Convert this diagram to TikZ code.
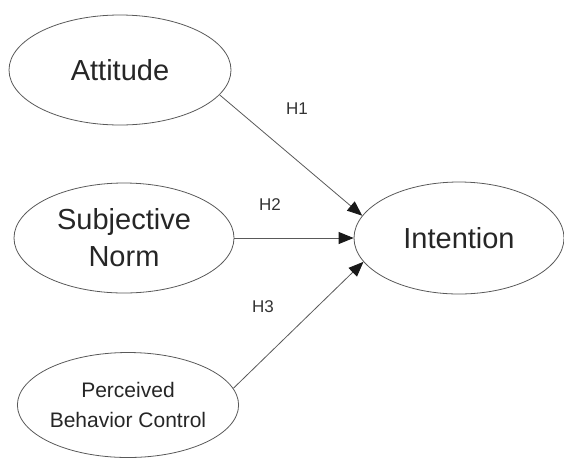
\documentclass[tikz,border=0pt]{standalone}
\usepackage{fontspec}
\setmainfont{Liberation Sans}
\usepackage{xcolor}
\usetikzlibrary{positioning, arrows.meta, shapes}

\begin{document}
\begin{tikzpicture}[x=1pt, y=-1pt,
    construct/.style={ellipse, draw=black!65, line width=0.8pt, inner sep=0pt, text=black!85, align=center, font=\fontsize{29}{37}\selectfont},
    hyp/.style={draw=black!65, line width=0.8pt, -{Triangle[length=15pt, width=12pt, fill=black!90, color=black!90]}},
    hlabel/.style={text=black!80, font=\fontsize{17}{20}\selectfont}]

    % Frame
    \useasboundingbox (0,0) rectangle (564,459);
    \clip (0,0) rectangle (564,459);

    % Constructs
    \node[construct, minimum width=222pt, minimum height=110pt] (att) at (120,70) {Attitude};
    \node[construct, minimum width=220pt, minimum height=110pt] (sn) at (124,238) {Subjective\\Norm};
    \node[construct, minimum width=220pt, minimum height=105pt, font=\fontsize{21}{30}\selectfont] (pbc) at (128,405) {Perceived\\Behavior Control};
    \node[construct, minimum width=210pt, minimum height=112pt] (int) at (459,238) {Intention};

    % Hypotheses
    \draw[hyp] (att.-14) -- (int.167);
    \draw[hyp] (sn.east) -- (int.west);
    \draw[hyp] (pbc.9) -- (int.194);

    \node[hlabel] (h1) at (297,109) {H1};
    \node[hlabel] (h2) at (270,205) {H2};
    \node[hlabel] (h3) at (263,307) {H3};

\end{tikzpicture}
\end{document}
